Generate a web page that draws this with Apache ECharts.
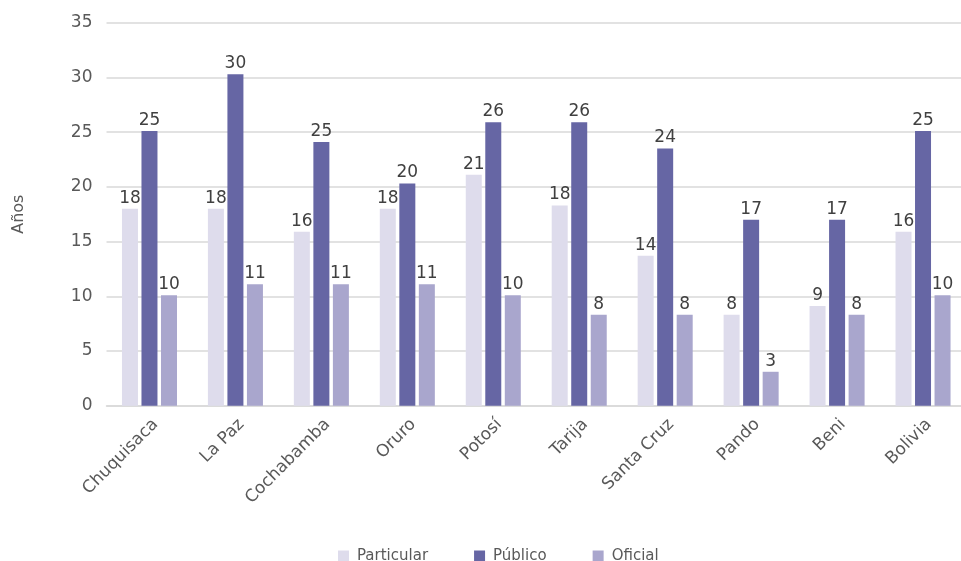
<!DOCTYPE html>
<html>
<head>
<meta charset="utf-8">
<script src="https://cdn.jsdelivr.net/npm/echarts@6/dist/echarts.min.js"></script>
<style>
  html, body { margin: 0; padding: 0; background: #fff; overflow: hidden; }
  #chart { width: 966px; height: 561px; }
</style>
</head>
<body>
<div id="chart"></div>
<script>
// categorias (departamentos)
const categories = ["Chuquisaca", "La Paz", "Cochabamba", "Oruro", "Potosí", "Tarija", "Santa Cruz", "Pando", "Beni", "Bolivia"];
const particular = [18.0, 18.0, 15.9, 18.0, 21.1, 18.3, 13.7, 8.3, 9.1, 15.9];
const publico    = [25.1, 30.3, 24.1, 20.3, 25.9, 25.9, 23.5, 17.0, 17.0, 25.1];
const oficial    = [10.1, 11.1, 11.1, 11.1, 10.1, 8.3, 8.3, 3.1, 8.3, 10.1];
// etiquetas tal como aparecen
const particularLabels = [18, 18, 16, 18, 21, 18, 14, 8, 9, 16];
const publicoLabels    = [25, 30, 25, 20, 26, 26, 24, 17, 17, 25];
const oficialLabels    = [10, 11, 11, 11, 10, 8, 8, 3, 8, 10];
const yTicks = [0, 5, 10, 15, 20, 25, 30, 35];

const FONT = '"DejaVu Sans", sans-serif';
const chart = echarts.init(document.getElementById('chart'));

const mkSeries = (name, data, labels, color) => ({
  name,
  type: 'bar',
  data,
  barWidth: 16,
  barGap: '22%',
  itemStyle: { color },
  label: {
    show: true,
    position: 'top',
    distance: 2,
    color: '#404040',
    fontFamily: FONT,
    fontSize: 17,
    formatter: (p) => String(labels[p.dataIndex]),
  },
});

const option = {
  animation: false,
  textStyle: { fontFamily: FONT },
  // el area de trazado sigue un poco mas alla del borde derecho
  grid: { left: 106.5, right: 0, top: 22.7, bottom: 155.3 },
  legend: {
    left: 333,
    top: 544,
    itemWidth: 11,
    itemHeight: 12,
    itemGap: 46,
    icon: 'rect',
    textStyle: { color: '#595959', fontSize: 15, fontFamily: FONT, padding: [0, 0, 0, 3] },
    data: ['Particular', 'Público', 'Oficial'],
  },
  xAxis: {
    type: 'category',
    data: categories,
    axisLine: { lineStyle: { color: '#d9d9d9', width: 1.5 } },
    axisTick: { show: false },
    axisLabel: {
      rotate: 45,
      interval: 0,
      margin: 10,
      verticalAlign: 'top',
      color: '#595959',
      fontSize: 17,
      fontFamily: FONT,
    },
  },
  yAxis: {
    type: 'value',
    min: yTicks[0],
    max: yTicks[yTicks.length - 1],
    interval: 5,
    name: 'Años',
    nameLocation: 'middle',
    nameRotate: 90,
    nameGap: 80,
    nameTextStyle: { color: '#595959', fontSize: 16, fontFamily: FONT },
    axisLine: { show: false },
    axisTick: { show: false },
    axisLabel: { color: '#595959', fontSize: 17, margin: 14, fontFamily: FONT },
    splitLine: { lineStyle: { color: '#d9d9d9', width: 1.5 } },
  },
  series: [
    mkSeries('Particular', particular, particularLabels, '#dedcec'),
    mkSeries('Público', publico, publicoLabels, '#6666a4'),
    mkSeries('Oficial', oficial, oficialLabels, '#a9a6cd'),
  ],
};
chart.setOption(option);
</script>
</body>
</html>
